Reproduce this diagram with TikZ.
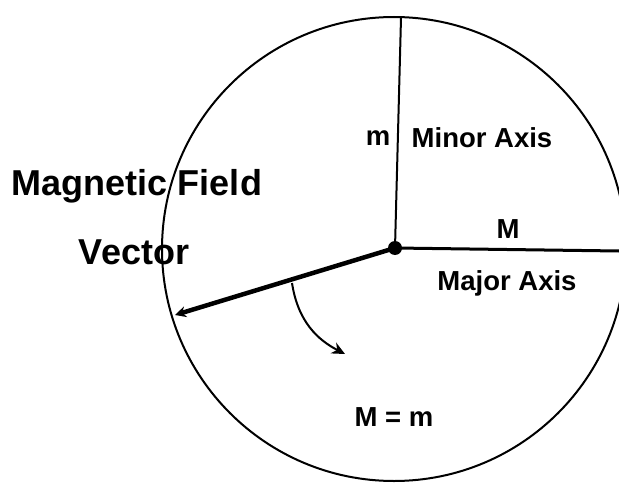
\documentclass[tikz,border=0pt]{standalone}
\usepackage{fontspec}
\setmainfont{Liberation Sans}
\usetikzlibrary{arrows.meta,positioning,calc}

\begin{document}
\begin{tikzpicture}[
  x=1pt, y=-1pt,
  big/.style={font=\fontsize{36}{38}\selectfont\bfseries, inner sep=0pt},
  lbl/.style={font=\fontsize{27.5}{29}\selectfont\bfseries, inner sep=0pt},
  rim/.style={draw, circle, line width=2pt, minimum size=464pt, inner sep=0pt},
  axisline/.style={line width=2pt},
  vec/.style={line width=4.5pt, -{Stealth[length=11pt, width=11pt]}},
  sweep/.style={line width=2pt, -{Stealth[length=13pt, width=12pt]}}
]
\useasboundingbox (0,0) rectangle (619,487);
\clip (0,0) rectangle (619,487);
% ellipse of polarisation
\node[rim] (orbit) at (394,249) {};
\coordinate (ctr) at (395,248);
\coordinate (minortop) at (401,18);
\coordinate (majorend) at (619,251);
\coordinate (vectip) at (175,315);
\coordinate (sweepbeg) at (292,283);
\coordinate (sweepend) at (345,354);
% axes and field vector
\draw[axisline] (ctr) -- (minortop);
\draw[line width=3pt] (ctr) -- (majorend);
\draw[vec] (ctr) -- (vectip);
\draw[sweep] (sweepbeg) .. controls (298,322) and (318,340) .. (sweepend);
\fill (ctr) circle (7pt);
% labels
\node[big] (mag) at (137,186) {Magnetic Field};
\node[big] (vecname) at (134,252) {Vector};
\node[lbl] (minorm) at (378,138) {m};
\node[lbl] (minor) at (482,138) {Minor Axis};
\node[lbl] (majorM) at (508,229) {M};
\node[lbl] (major) at (507,283) {Major Axis};
\node[lbl] (equal) at (394,417) {M = m};
\end{tikzpicture}
\end{document}
